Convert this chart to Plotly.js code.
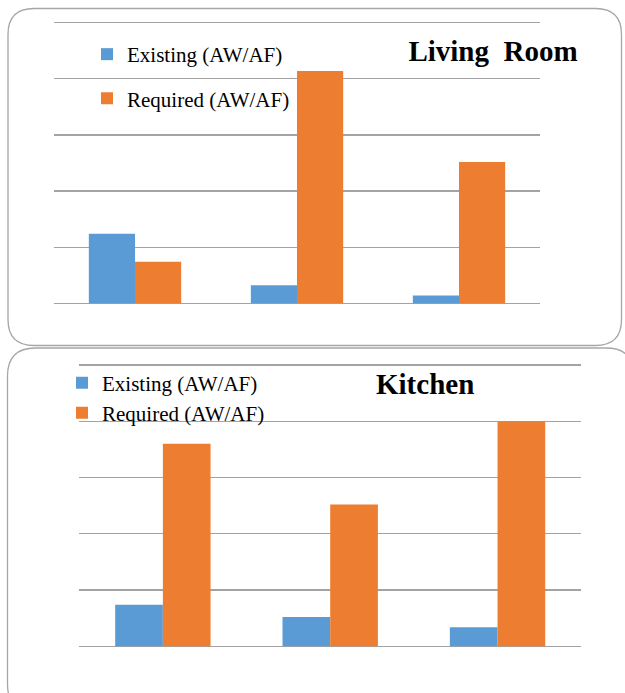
<!DOCTYPE html>
<html>
<head>
<meta charset="utf-8">
<script src="https://cdn.plot.ly/plotly-3.0.1.min.js"></script>
<style>
  html, body { margin: 0; padding: 0; background: #ffffff; }
  #chart { width: 625px; height: 693px; }
</style>
</head>
<body>
<div id="chart"></div>
<script>
// ---- data ----
const categories = ["Case 1", "Case 2", "Case 3"];
const livingExisting = [0.062, 0.016, 0.007];
const livingRequired = [0.037, 0.207, 0.126];
const kitchenExisting = [0.037, 0.026, 0.017];
const kitchenRequired = [0.180, 0.126, 0.200];
const seriesNames = ["Existing (AW/AF)", "Required (AW/AF)"];
const panelTitles = ["Living\u00a0\u00a0Room", "Kitchen"];

// ---- layout helpers (pixel -> paper, margins are zero) ----
const W = 625, H = 693;
const px = v => v / W;
const py = v => 1 - v / H;

function roundRect(x0, y0, x1, y1, r) {
  const P = (x, y) => px(x) + "," + py(y);
  return "M" + P(x0 + r, y0) +
    " L" + P(x1 - r, y0) + " Q" + P(x1, y0) + " " + P(x1, y0 + r) +
    " L" + P(x1, y1 - r) + " Q" + P(x1, y1) + " " + P(x1 - r, y1) +
    " L" + P(x0 + r, y1) + " Q" + P(x0, y1) + " " + P(x0, y1 - r) +
    " L" + P(x0, y0 + r) + " Q" + P(x0, y0) + " " + P(x0 + r, y0) + " Z";
}

const BLUE = "#5B9BD5", ORANGE = "#ED7D31";
const serif = "Liberation Serif, Times New Roman, serif";

const traces = [
  { type: "bar", x: categories, y: livingExisting, name: seriesNames[0], marker: { color: BLUE }, xaxis: "x", yaxis: "y", legend: "legend" },
  { type: "bar", x: categories, y: livingRequired, name: seriesNames[1], marker: { color: ORANGE }, xaxis: "x", yaxis: "y", legend: "legend2" },
  { type: "bar", x: categories, y: kitchenExisting, name: seriesNames[0], marker: { color: BLUE }, xaxis: "x2", yaxis: "y2", legend: "legend3" },
  { type: "bar", x: categories, y: kitchenRequired, name: seriesNames[1], marker: { color: ORANGE }, xaxis: "x2", yaxis: "y2", legend: "legend4" }
];

// y axis: 0..0.25, padded slightly so the end gridlines are drawn
const YMAX = 0.25, PAD = 0.001;
function yDomain(basePx, topPx) {
  const k = (basePx - topPx) / YMAX;
  return [py(basePx + PAD * k), py(topPx - PAD * k)];
}

const gridColor = "#a3a3a3";
const yCommon = {
  range: [-PAD, YMAX + PAD], dtick: 0.05, tick0: 0, showgrid: true, gridcolor: gridColor, gridwidth: 1.2,
  zeroline: false, showline: false, showticklabels: false, ticks: "", fixedrange: true
};
const xCommon = { showgrid: false, zeroline: false, showline: false, showticklabels: false, ticks: "", fixedrange: true };

const legendCommon = (x, y) => ({
  x: px(x), y: py(y), xref: "paper", yref: "paper", xanchor: "left", yanchor: "middle",
  bgcolor: "rgba(0,0,0,0)", borderwidth: 0, itemwidth: 30,
  font: { family: serif, size: 21, color: "#000000" }
});

const layout = {
  width: W, height: H,
  margin: { l: 0, r: 0, t: 0, b: 0 },
  paper_bgcolor: "#ffffff", plot_bgcolor: "rgba(0,0,0,0)",
  barmode: "group", bargap: 0.43, bargroupgap: 0,
  showlegend: true,
  title: {
    text: "<b>" + panelTitles[0] + "</b>",
    font: { family: serif, size: 29, color: "#000000" },
    xref: "paper", yref: "paper", x: px(493), y: py(51), xanchor: "center", yanchor: "middle"
  },
  xaxis: Object.assign({ domain: [px(54), px(540)], anchor: "y" }, xCommon),
  yaxis: Object.assign({ domain: yDomain(303.3, 22.7), anchor: "x" }, yCommon),
  xaxis2: Object.assign({ domain: [px(79.2), px(581.2)], anchor: "y2" }, xCommon),
  yaxis2: Object.assign({ domain: yDomain(646.3, 365), anchor: "x2" }, yCommon),
  legend: legendCommon(87, 54.5),
  legend2: legendCommon(87, 98.7),
  legend3: legendCommon(62, 383),
  legend4: legendCommon(62, 413),
  annotations: [{
    text: "<b>" + panelTitles[1] + "</b>", showarrow: false,
    font: { family: serif, size: 29, color: "#000000" },
    xref: "paper", yref: "paper", x: px(425), y: py(384), xanchor: "center", yanchor: "middle"
  }],
  shapes: [
    { type: "path", xref: "paper", yref: "paper", path: roundRect(8, 8.5, 621.5, 345.5, 26), line: { color: "#a6a6a6", width: 1.3 }, layer: "below" },
    { type: "path", xref: "paper", yref: "paper", path: roundRect(7.5, 348, 634, 712, 28), line: { color: "#a6a6a6", width: 1.3 }, layer: "below" }
  ]
};

Plotly.newPlot("chart", traces, layout, { displayModeBar: false, staticPlot: true });
</script>
</body>
</html>
